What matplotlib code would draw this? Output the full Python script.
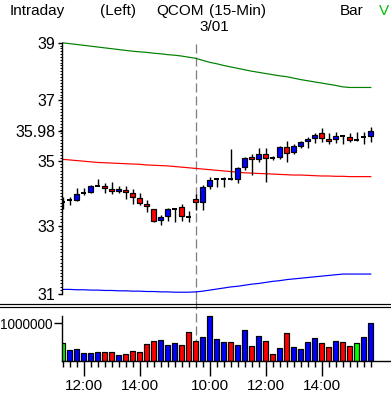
import matplotlib
matplotlib.use('Agg')
import matplotlib.pyplot as plt
import numpy as np
from matplotlib.lines import Line2D
from matplotlib.ticker import FixedLocator, FixedFormatter, NullFormatter

plt.rcParams['font.family'] = ['Liberation Sans', 'DejaVu Sans']

# 15-min bars: 2/28 11:15-15:45, 3/01 09:30-15:45
times = ['11:15', '11:30', '11:45', '12:00', '12:15', '12:30', '12:45', '13:00', '13:15', '13:30',
         '13:45', '14:00', '14:15', '14:30', '14:45', '15:00', '15:15', '15:30', '15:45',
         '09:30', '09:45', '10:00', '10:15', '10:30', '10:45', '11:00', '11:15', '11:30', '11:45',
         '12:00', '12:15', '12:30', '12:45', '13:00', '13:15', '13:30', '13:45', '14:00', '14:15',
         '14:30', '14:45', '15:00', '15:15', '15:30', '15:45']

open_ = [33.71, 33.79, 33.79, 34.00, 34.04, 34.22, 34.22, 34.12, 34.05, 34.09,
         33.99, 33.83, 33.66, 33.49, 33.16, 33.29, 33.51, 33.55, 33.27, 33.80,
         33.73, 34.21, 34.42, 34.44, 34.43, 34.42, 34.81, 35.12, 35.06, 35.23,
         35.10, 35.15, 35.45, 35.29, 35.49, 35.64, 35.75, 35.91, 35.71, 35.71,
         35.80, 35.77, 35.69, 35.78, 35.80]
close = [33.71, 33.79, 33.97, 34.00, 34.21, 34.22, 34.14, 34.05, 34.12, 34.02,
         33.87, 33.68, 33.60, 33.13, 33.25, 33.50, 33.51, 33.29, 33.27, 33.73,
         34.18, 34.40, 34.42, 34.44, 34.43, 34.77, 35.10, 35.06, 35.23, 35.10,
         35.10, 35.46, 35.26, 35.49, 35.62, 35.71, 35.84, 35.76, 35.64, 35.81,
         35.80, 35.69, 35.69, 35.78, 35.98]
high = [33.88, 33.88, 34.14, 34.14, 34.25, 34.45, 34.32, 34.34, 34.22, 34.20,
        34.11, 33.99, 33.78, 33.49, 33.32, 33.54, 33.51, 33.65, 33.43, 33.96,
        34.25, 34.51, 34.48, 34.51, 35.39, 34.80, 35.15, 35.23, 35.44, 35.44,
        35.17, 35.49, 35.65, 35.57, 35.65, 35.77, 35.91, 36.08, 35.91, 35.94,
        35.86, 35.93, 35.95, 35.94, 36.11]
low = [33.49, 33.62, 33.76, 33.93, 33.99, 34.22, 33.99, 33.98, 34.01, 33.80,
       33.65, 33.63, 33.40, 33.10, 33.03, 33.15, 33.12, 33.13, 33.12, 33.47,
       33.47, 34.11, 34.17, 34.19, 34.40, 34.30, 34.72, 34.55, 34.98, 34.33,
       35.04, 35.06, 34.99, 35.23, 35.41, 35.44, 35.59, 35.62, 35.57, 35.59,
       35.54, 35.62, 35.65, 35.54, 35.63]

band_upper = [39.00, 38.97, 38.94, 38.91, 38.88, 38.85, 38.82, 38.79, 38.76, 38.73,
              38.70, 38.68, 38.66, 38.63, 38.61, 38.58, 38.56, 38.53, 38.49, 38.45,
              38.38, 38.31, 38.26, 38.20, 38.15, 38.10, 38.05, 38.00, 37.96, 37.92,
              37.88, 37.84, 37.81, 37.76, 37.71, 37.67, 37.63, 37.59, 37.55, 37.51,
              37.46, 37.44, 37.44, 37.44, 37.44]
band_mid = [35.06, 35.04, 35.02, 35.00, 34.98, 34.96, 34.95, 34.94, 34.93, 34.92,
            34.91, 34.90, 34.88, 34.87, 34.86, 34.85, 34.83, 34.81, 34.79, 34.77,
            34.75, 34.73, 34.71, 34.69, 34.67, 34.65, 34.63, 34.62, 34.61, 34.60,
            34.59, 34.58, 34.57, 34.56, 34.56, 34.55, 34.54, 34.53, 34.53, 34.52,
            34.52, 34.51, 34.51, 34.51, 34.51]
band_lower = [31.13, 31.13, 31.12, 31.12, 31.11, 31.11, 31.10, 31.10, 31.09, 31.09,
              31.08, 31.08, 31.07, 31.07, 31.06, 31.06, 31.05, 31.05, 31.05, 31.06,
              31.08, 31.11, 31.14, 31.17, 31.20, 31.22, 31.25, 31.28, 31.30, 31.33,
              31.36, 31.38, 31.41, 31.43, 31.45, 31.47, 31.49, 31.51, 31.53, 31.55,
              31.57, 31.57, 31.57, 31.57, 31.57]

volume = [0.47, 0.28, 0.31, 0.20, 0.20, 0.23, 0.23, 0.23, 0.15, 0.19,
          0.26, 0.23, 0.44, 0.52, 0.56, 0.42, 0.47, 0.42, 0.76, 0.52,
          0.63, 1.19, 0.58, 0.50, 0.50, 0.42, 0.81, 0.39, 0.65, 0.52,
          0.18, 0.34, 0.73, 0.36, 0.31, 0.50, 0.60, 0.47, 0.36, 0.52,
          0.50, 0.39, 0.47, 0.63, 1.00]  # millions
vol_dir = ['f', 'u', 'u', 'u', 'u', 'u', 'd', 'd', 'u', 'd',
           'd', 'd', 'd', 'd', 'u', 'u', 'u', 'd', 'd', 'd',
           'u', 'u', 'u', 'u', 'd', 'u', 'u', 'd', 'u', 'd',
           'd', 'u', 'd', 'u', 'u', 'u', 'u', 'd', 'd', 'u',
           'd', 'd', 'f', 'u', 'u']

price_ticks = [31, 33, 35, 35.98, 37, 39]
session_break = 19

W, H = 391, 396
PX = 72 / 100  # points per pixel


def box(x0, y0, x1, y1):
    return [x0 / W, 1 - y1 / H, (x1 - x0) / W, (y1 - y0) / H]


fig = plt.figure(figsize=(W / 100, H / 100), dpi=100)
ax = fig.add_axes(box(61.7, 40, 391, 300))
axv = fig.add_axes(box(61.7, 300, 391, 361))

n = len(close)
x = np.arange(n)
o = np.array(open_)
c = np.array(close)
xlim = (-0.15, -0.15 + (391 - 61.7) / 7)

# price panel
ax.set_yscale('log')
ax.plot(x, band_upper, color='#008000', lw=1.2 * PX, zorder=1)
ax.plot(x, band_mid, color='#ff0000', lw=1.2 * PX, zorder=1)
ax.plot(x, band_lower, color='#0000ff', lw=1.2 * PX, zorder=1)
ax.axvline(session_break, color='#808080', lw=1.3 * PX, ls=(0, (7, 3)), zorder=0.5)

ax.vlines(x, low, high, color='black', lw=1.4 * PX, zorder=2)
up = c > o
dn = c < o
fl = c == o
ax.bar(x[up], c[up] - o[up], bottom=o[up], width=0.68, color='#0000ff',
       edgecolor='black', lw=1.2 * PX, zorder=3)
ax.bar(x[dn], o[dn] - c[dn], bottom=c[dn], width=0.68, color='#ff0000',
       edgecolor='black', lw=1.2 * PX, zorder=3)
ax.hlines(c[fl], x[fl] - 0.34, x[fl] + 0.34, color='black', lw=2 * PX, zorder=3)

ax.set_xlim(xlim)
ax.set_ylim(30.83, 39.10)
ax.yaxis.set_major_locator(FixedLocator(price_ticks))
ax.yaxis.set_major_formatter(FixedFormatter([f'{t:g}' for t in price_ticks]))
ax.yaxis.set_minor_locator(FixedLocator(np.arange(31, 39.01, 0.1)))
ax.yaxis.set_minor_formatter(NullFormatter())
ax.set_xticks([])
for s in ['top', 'right', 'bottom']:
    ax.spines[s].set_visible(False)
ax.spines['left'].set_bounds(31, 39)
ax.spines['left'].set_linewidth(1.4 * PX)
ax.tick_params(axis='y', which='major', length=4 * PX, width=1.4 * PX, pad=2 * PX,
               labelsize=11.5)
ax.tick_params(axis='y', which='minor', length=2.5 * PX, width=1 * PX)

# volume panel
vcol = {'u': '#0000ff', 'd': '#ff0000', 'f': '#00ff00'}
axv.axvline(session_break, color='#808080', lw=1.3 * PX, ls=(0, (7, 3)), zorder=0.5)
axv.bar(x, np.array(volume) * 1e6, width=0.68, color=[vcol[d] for d in vol_dir],
        edgecolor='black', lw=1.2 * PX, zorder=2)
axv.set_xlim(xlim)
axv.set_ylim(0, 1.618e6)
axv.set_yticks([1e6])
axv.set_yticklabels(['1000000'])
for s in ['top', 'right']:
    axv.spines[s].set_visible(False)
axv.spines['left'].set_bounds(0, 1.2e6)
axv.spines['left'].set_linewidth(1.4 * PX)
axv.spines['bottom'].set_linewidth(1.4 * PX)
axv.tick_params(axis='y', length=8 * PX, width=1.4 * PX, pad=1 * PX, labelsize=9.8)

major_idx = [i for i, t in enumerate(times) if t in ('10:00', '12:00', '14:00')]
axv.xaxis.set_major_locator(FixedLocator(major_idx))
axv.xaxis.set_major_formatter(FixedFormatter([times[i] for i in major_idx]))
axv.xaxis.set_minor_locator(FixedLocator(x))
axv.tick_params(axis='x', which='major', length=15 * PX, width=1.4 * PX, pad=3 * PX,
                labelsize=11)
axv.tick_params(axis='x', which='minor', length=5.5 * PX, width=1.4 * PX)

# panel separator
for yy in (303.5, 306.5):
    fig.add_artist(Line2D([0, 1], [1 - yy / H] * 2, color='black', lw=1.2 * PX))

# header
hdr_y = 1 - 11 / H
fs = 11
fig.text(10 / W, hdr_y, 'Intraday', fontsize=fs, va='center')
fig.text(100 / W, hdr_y, '(Left)', fontsize=fs, va='center')
fig.text(156 / W, hdr_y, 'QCOM', fontsize=fs, va='center')
fig.text(209 / W, hdr_y, '(15-Min)', fontsize=fs, va='center')
fig.text(340 / W, hdr_y, 'Bar', fontsize=fs, va='center')
fig.text(379 / W, hdr_y, 'V', fontsize=fs, va='center', color='#00c000')
fig.text(214 / W, 1 - 27 / H, '3/01', fontsize=fs, va='center', ha='center')

fig.savefig('out.png', dpi=100)
